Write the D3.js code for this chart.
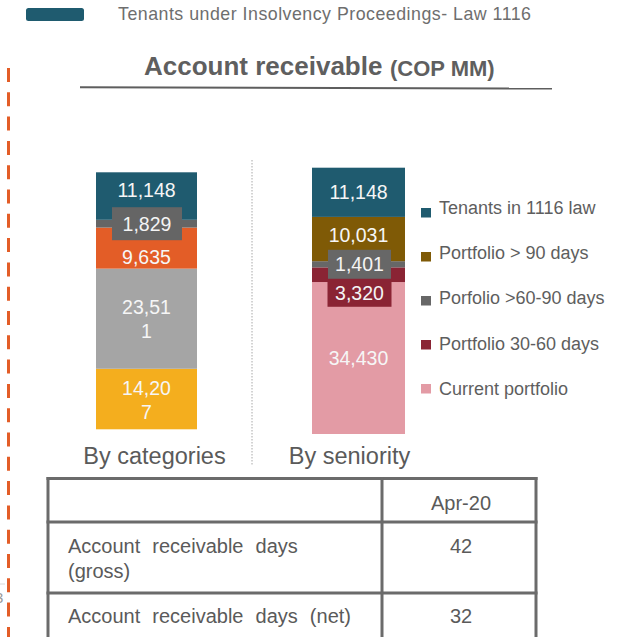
<!DOCTYPE html>
<html><head><meta charset="utf-8">
<script src="https://cdn.jsdelivr.net/npm/d3@7"></script>
<style>
body{margin:0;background:#fff;}
svg{display:block;font-family:Arial,"Liberation Sans",sans-serif;}
</style>
</head><body>
<svg id="c" width="639" height="637"></svg>
<script>
// ---------------- DATA ----------------
const categoryKeys = ["Category A","Category B","Category C","Category D","Tenants under Insolvency Proceedings- Law 1116"];
const categoryValues = [14207, 23511, 9635, 1829, 11148];
const seniorityKeys = ["Current portfolio","Portfolio 30-60 days","Porfolio >60-90 days","Portfolio > 90 days","Tenants in 1116 law"];
const seniorityValues = [34430, 3320, 1401, 10031, 11148];
const barLabels = ["By categories","By seniority"];
const topLegendLabel = "Tenants under Insolvency Proceedings- Law 1116";
const titleMain = "Account receivable";
const titleUnit = "(COP MM)";
const tableColumns = ["", "Apr-20"];
const tableRowLabels = [["Account receivable days","(gross)"],["Account receivable days (net)"]];
const tableValues = [42, 32];

// ---------------- STYLE ----------------
const categoryColors = ["#f4ae1e","#a5a5a5","#e35d27","#656565","#1f5b6f"];
const seniorityColors = ["#e39ba5","#8a2434","#676767","#7f5a06","#1f5b6f"];
const textGray = "#5f5f5f";

const svg = d3.select("#c");
const fmt = d3.format(",");

// left dashed orange rule
svg.append("line").attr("x1",8.5).attr("x2",8.5).attr("y1",68).attr("y2",640)
  .attr("stroke","#e35d27").attr("stroke-width",3).attr("stroke-dasharray","14 10.3");
// cut-off page artefacts at far left
svg.append("line").attr("x1",0).attr("x2",5).attr("y1",584).attr("y2",584).attr("stroke","#d8d8d8").attr("stroke-width",1);
svg.append("text").attr("x",-5).attr("y",603).attr("font-size",15).attr("fill","#9a9a9a").text("3");

// top legend
svg.append("rect").attr("x",26).attr("y",8).attr("width",58).attr("height",13).attr("rx",2.5)
  .attr("fill",categoryColors[4]);
svg.append("text").attr("x",118).attr("y",19.5).attr("font-size",17.8).attr("fill","#6e6e6e")
  .attr("textLength",413).attr("lengthAdjust","spacing").text(topLegendLabel);

// title
svg.append("text").attr("x",144).attr("y",75).attr("font-size",26).attr("font-weight","bold")
  .attr("fill",textGray).text(titleMain);
svg.append("text").attr("x",390).attr("y",75.5).attr("font-size",22).attr("font-weight","bold")
  .attr("fill",textGray).text(titleUnit);
svg.append("line").attr("x1",80).attr("x2",552).attr("y1",87.2).attr("y2",88.6)
  .attr("stroke","#5e5e5e").attr("stroke-width",2);

// separator
svg.append("line").attr("x1",252).attr("x2",252).attr("y1",160).attr("y2",466)
  .attr("stroke","#a8a8a8").attr("stroke-width",1).attr("stroke-dasharray","1.5 1.5");

// ---------------- BARS ----------------
function drawBar(cfg){
  const row = {};
  cfg.keys.forEach((k,i)=> row[k] = cfg.values[i]);
  const series = d3.stack().keys(cfg.keys)([row]);
  const total = d3.sum(cfg.values);
  const y = d3.scaleLinear().domain([0,total]).range(cfg.yRange);
  const x = d3.scaleBand().domain([cfg.label]).range(cfg.xRange).padding(0);
  const g = svg.append("g");
  g.selectAll("rect.seg").data(series).join("rect").attr("class","seg")
    .attr("x", x(cfg.label)).attr("width", x.bandwidth())
    .attr("y", d=>y(d[0][1])).attr("height", d=>y(d[0][0])-y(d[0][1]))
    .attr("fill",(d,i)=>cfg.colors[i]);
  const cx = x(cfg.label) + x.bandwidth()/2;
  const fs = 19.5;
  const mids = series.map(s => (y(s[0][1]) + y(s[0][0]))/2);
  const boxTop = {};
  Object.keys(cfg.boxes).forEach(k=>{ const b = cfg.boxes[k]; if (b.below===undefined) boxTop[k] = mids[k] - b.h/2; });
  Object.keys(cfg.boxes).forEach(k=>{ const b = cfg.boxes[k]; if (b.below!==undefined) boxTop[k] = boxTop[b.below] + cfg.boxes[b.below].h; });
  series.forEach((s,i)=>{
    const mid = mids[i];
    const txt = fmt(cfg.values[i]);
    const box = cfg.boxes[i];
    if (box){
      const by = boxTop[i];
      g.append("rect").attr("x",cx - box.w/2 + (box.dx||0)).attr("y",by).attr("width",box.w).attr("height",box.h)
        .attr("fill",cfg.colors[i]);
      g.append("text").attr("x",cx + (box.dx||0)).attr("y",by + box.h/2 + fs*0.35)
        .attr("text-anchor","middle").attr("font-size",fs).attr("fill","#f4f4f4").text(txt);
      return;
    }
    const lines = cfg.wrap[i] ? [txt.slice(0,5), txt.slice(5)] : [txt];
    const dy = cfg.dy[i] || 0;
    const lh = 24;
    const t = g.append("text").attr("text-anchor","middle").attr("font-size",fs).attr("fill","#f6f6f6");
    lines.forEach((ln,j)=>{
      t.append("tspan").attr("x",cx)
        .attr("y", mid + dy + fs*0.35 - (lines.length-1)*lh/2 + j*lh).text(ln);
    });
  });
  svg.append("text").attr("x",cfg.labelX).attr("y",463.5).attr("text-anchor","middle")
    .attr("font-size",23.5).attr("fill","#5a5a5a").text(cfg.label);
}

drawBar({
  keys: categoryKeys, values: categoryValues, colors: categoryColors, label: barLabels[0],
  xRange:[96,197], yRange:[429.3,172.3], labelX:154.5,
  boxes:{3:{w:70,h:33,dx:0.5}}, wrap:{0:true,1:true}, dy:{2:9,4:-5.5,0:1.3}
});
drawBar({
  keys: seniorityKeys, values: seniorityValues, colors: seniorityColors, label: barLabels[1],
  xRange:[312,405], yRange:[434,167.7], labelX:349.5,
  boxes:{2:{w:63,h:29,dx:1},1:{w:64,h:28,dx:1,below:2}}, wrap:{}, dy:{3:-4}
});

// legend (top to bottom = reverse stack order)
const legendItems = seniorityKeys.map((k,i)=>({k, c:seniorityColors[i]})).reverse();
const ly = d3.scalePoint().domain(legendItems.map(d=>d.k)).range([0,4]);
const lg = svg.append("g");
legendItems.forEach((d)=>{
  const i = ly(d.k);
  lg.append("rect").attr("x",421).attr("y",208 + i*44).attr("width",10).attr("height",9.5).attr("fill",d.c);
  lg.append("text").attr("x",439).attr("y",213.5 + i*45.4).attr("font-size",18).attr("fill","#5e5e5e").text(d.k);
});

// ---------------- TABLE ----------------
const tg = svg.append("g");
const colX = [48, 382, 536];
const rowY = [478.5, 522, 593, 660];
const bc = "#6b6b6b";
rowY.forEach(yy=> tg.append("line").attr("x1",colX[0]-1.5).attr("x2",colX[2]+1.5).attr("y1",yy).attr("y2",yy)
  .attr("stroke",bc).attr("stroke-width",3));
colX.forEach(xx=> tg.append("line").attr("x1",xx).attr("x2",xx).attr("y1",rowY[0]-1.5).attr("y2",660)
  .attr("stroke",bc).attr("stroke-width",3));
tg.append("text").attr("x",461).attr("y",510).attr("text-anchor","middle").attr("font-size",20)
  .attr("fill","#5a5a5a").text(tableColumns[1]);
const labelBase = [553, 623];
tableRowLabels.forEach((lines,r)=>{
  lines.forEach((ln,j)=>{
    tg.append("text").attr("x",68).attr("y",labelBase[r] + j*24.5).attr("font-size",20)
      .attr("word-spacing","6.5px").attr("fill","#5a5a5a").text(ln);
  });
  tg.append("text").attr("x",461).attr("y",labelBase[r]).attr("text-anchor","middle").attr("font-size",20)
    .attr("fill","#5a5a5a").text(tableValues[r]);
});
</script>
</body></html>
